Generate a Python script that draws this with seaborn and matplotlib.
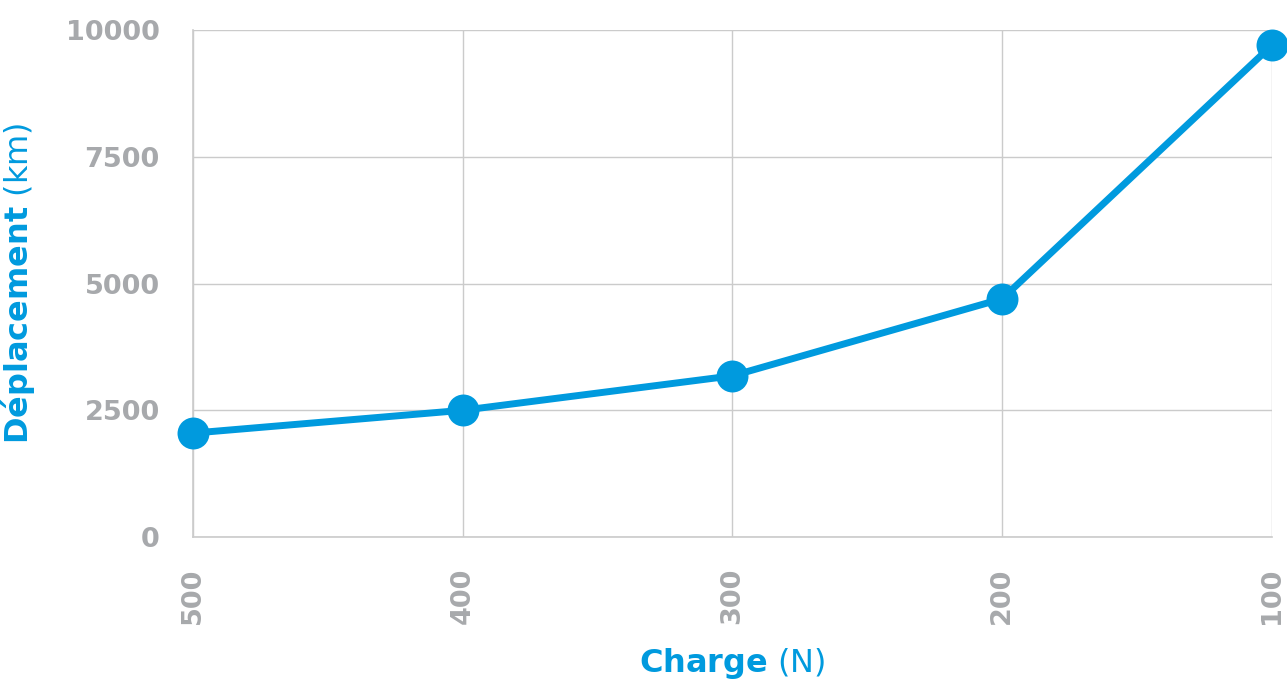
import pandas as pd
import seaborn as sns
import matplotlib.pyplot as plt

# data
charges = ['500', '400', '300', '200', '100']
deplacement = [2050, 2500, 3180, 4700, 9700]
y_ticks = [0, 2500, 5000, 7500, 10000]

blue = '#009ADE'
grey_txt = '#A7A9AC'
grey_grid = '#CBCBCB'

df = pd.DataFrame({'Charge': charges, 'Deplacement': deplacement})

sns.set_style('white')
plt.rcParams['font.family'] = ['DejaVu Sans']
plt.rcParams['mathtext.fontset'] = 'dejavusans'

fig = plt.figure(figsize=(12.87, 6.87), dpi=100)
ax = fig.add_axes([0.15, 0.2183, 0.8383, 0.738])

sns.lineplot(data=df, x='Charge', y='Deplacement', ax=ax, color=blue,
             linewidth=5, marker='o', markersize=23, markeredgewidth=0,
             clip_on=False, sort=False, zorder=5)

ax.set_xlim(0, len(charges) - 1)
ax.set_ylim(0, 10000)
ax.set_yticks(y_ticks)
ax.set_yticklabels([str(t) for t in y_ticks])

ax.grid(True, color=grey_grid, linewidth=1)
ax.set_axisbelow(True)
for side in ['top', 'right']:
    ax.spines[side].set_visible(False)
for side in ['left', 'bottom']:
    ax.spines[side].set_color(grey_grid)
    ax.spines[side].set_linewidth(1.2)

ax.tick_params(axis='both', length=0, colors=grey_txt, labelsize=19.5)
ax.tick_params(axis='x', pad=22, rotation=90)
ax.tick_params(axis='y', pad=24)
for lbl in ax.get_xticklabels() + ax.get_yticklabels():
    lbl.set_fontweight('bold')

ax.set_xlabel(r'$\mathbf{Charge}$ (N)', color=blue, fontsize=23, labelpad=16)
ax.set_ylabel(r'$\mathbf{D\acute{e}placement}$ (km)', color=blue, fontsize=23, labelpad=20)

fig.savefig('out.png', dpi=100)
